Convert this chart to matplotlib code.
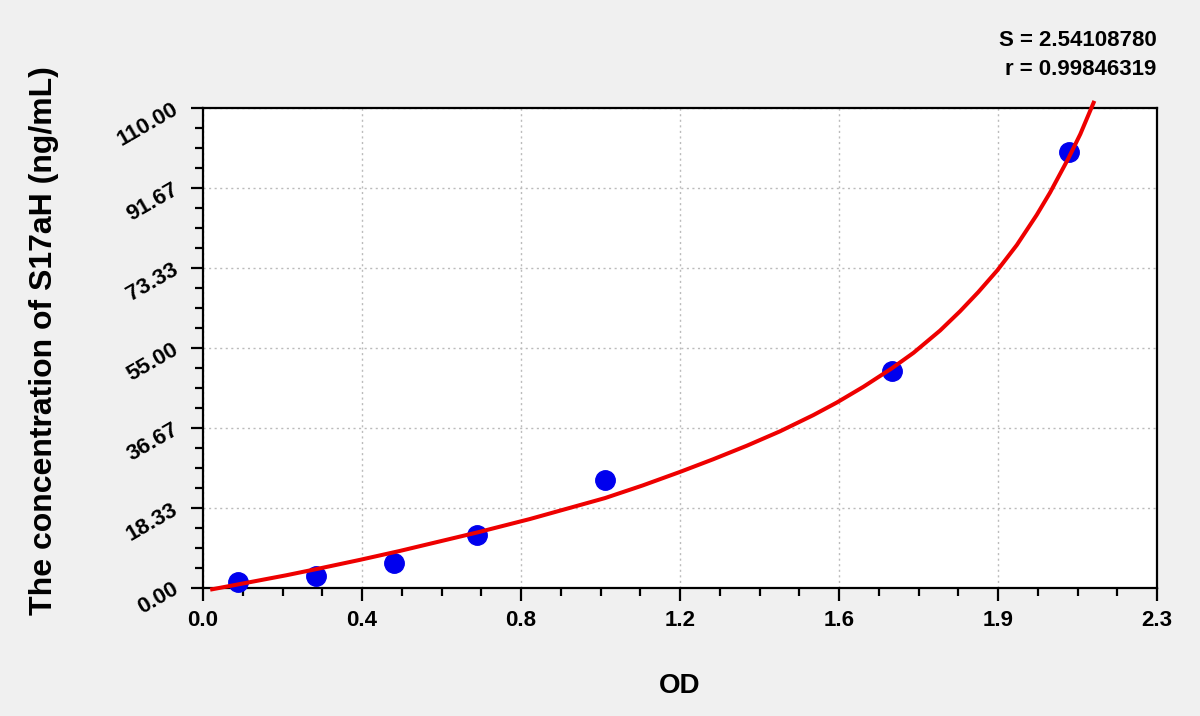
import numpy as np
import matplotlib

matplotlib.use("Agg")
import matplotlib.pyplot as plt
from matplotlib.ticker import AutoMinorLocator

plt.rcParams["font.family"] = ["Liberation Sans", "DejaVu Sans"]
plt.rcParams["font.weight"] = "bold"

# standards (OD vs concentration)
od_points = [0.085, 0.273, 0.461, 0.660, 0.969, 1.660, 2.088]
conc_points = [1.44, 2.75, 5.8, 12.1, 24.75, 49.8, 99.8]

# fitted curve
od_curve = [0.022, 0.089, 0.200, 0.282, 0.381, 0.475, 0.660, 0.788, 0.969,
            1.060, 1.150, 1.230, 1.311, 1.391, 1.471, 1.528, 1.592, 1.660,
            1.713, 1.777, 1.825, 1.869, 1.915, 1.962, 2.010, 2.042, 2.086,
            2.115, 2.147]
conc_curve = [-0.3, 0.9, 2.9, 4.5, 6.5, 8.5, 12.7, 15.8, 20.6,
              23.5, 26.6, 29.5, 32.6, 35.9, 39.6, 42.5, 46.1, 50.3,
              53.9, 59.0, 63.4, 67.8, 72.8, 78.6, 85.5, 90.6, 98.4,
              104.0, 111.2]

x_ticks = np.linspace(0, 2.3, 7)
x_labels = ["0.0", "0.4", "0.8", "1.2", "1.6", "1.9", "2.3"]
y_ticks = np.linspace(0, 110, 7)
y_labels = ["0.00", "18.33", "36.67", "55.00", "73.33", "91.67", "110.00"]

s_value = "2.54108780"
r_value = "0.99846319"

fig = plt.figure(figsize=(12, 7.16), dpi=100, facecolor="#f0f0f0")
ax = fig.add_axes([0.1692, 0.1788, 0.795, 0.6704])
ax.set_facecolor("white")

ax.plot(od_points, conc_points, "o", color="#0000ee", markersize=14, zorder=3,
        clip_on=False)
ax.plot(od_curve, conc_curve, color="#ee0000", lw=2.9, zorder=4, clip_on=False,
        solid_joinstyle="round")

ax.set_xlim(0, 2.3)
ax.set_ylim(0, 110)
ax.set_xticks(x_ticks)
ax.set_xticklabels(x_labels, fontsize=16, fontweight="bold")
ax.set_yticks(y_ticks)
ax.set_yticklabels(y_labels, fontsize=16, fontweight="bold", rotation=30,
                   rotation_mode="anchor", ha="right", va="center")
ax.xaxis.set_minor_locator(AutoMinorLocator(4))
ax.yaxis.set_minor_locator(AutoMinorLocator(4))
ax.tick_params(which="major", direction="out", length=9, width=1.6, pad=7)
ax.tick_params(axis="y", which="major", pad=10)
ax.tick_params(which="minor", direction="out", length=6, width=1.6)
ax.tick_params(top=False, right=False)
for sp in ax.spines.values():
    sp.set_linewidth(1.6)

ax.grid(True, which="major", color="#bbbbbb", ls=(0, (1.5, 2.5)), lw=1)
ax.set_axisbelow(True)

ax.set_xlabel("OD", fontsize=20, fontweight="bold", labelpad=30)
fig.text(0.037, 0.525, "The concentration of S17aH (ng/mL)", rotation=90,
         fontsize=23, fontweight="bold", ha="center", va="center")

fig.text(0.964, 0.944, f"S = {s_value}", fontsize=16, fontweight="bold",
         ha="right", va="center")
fig.text(0.964, 0.903, f"r = {r_value}", fontsize=16, fontweight="bold",
         ha="right", va="center")

fig.savefig("out.png", dpi=100, facecolor=fig.get_facecolor())
